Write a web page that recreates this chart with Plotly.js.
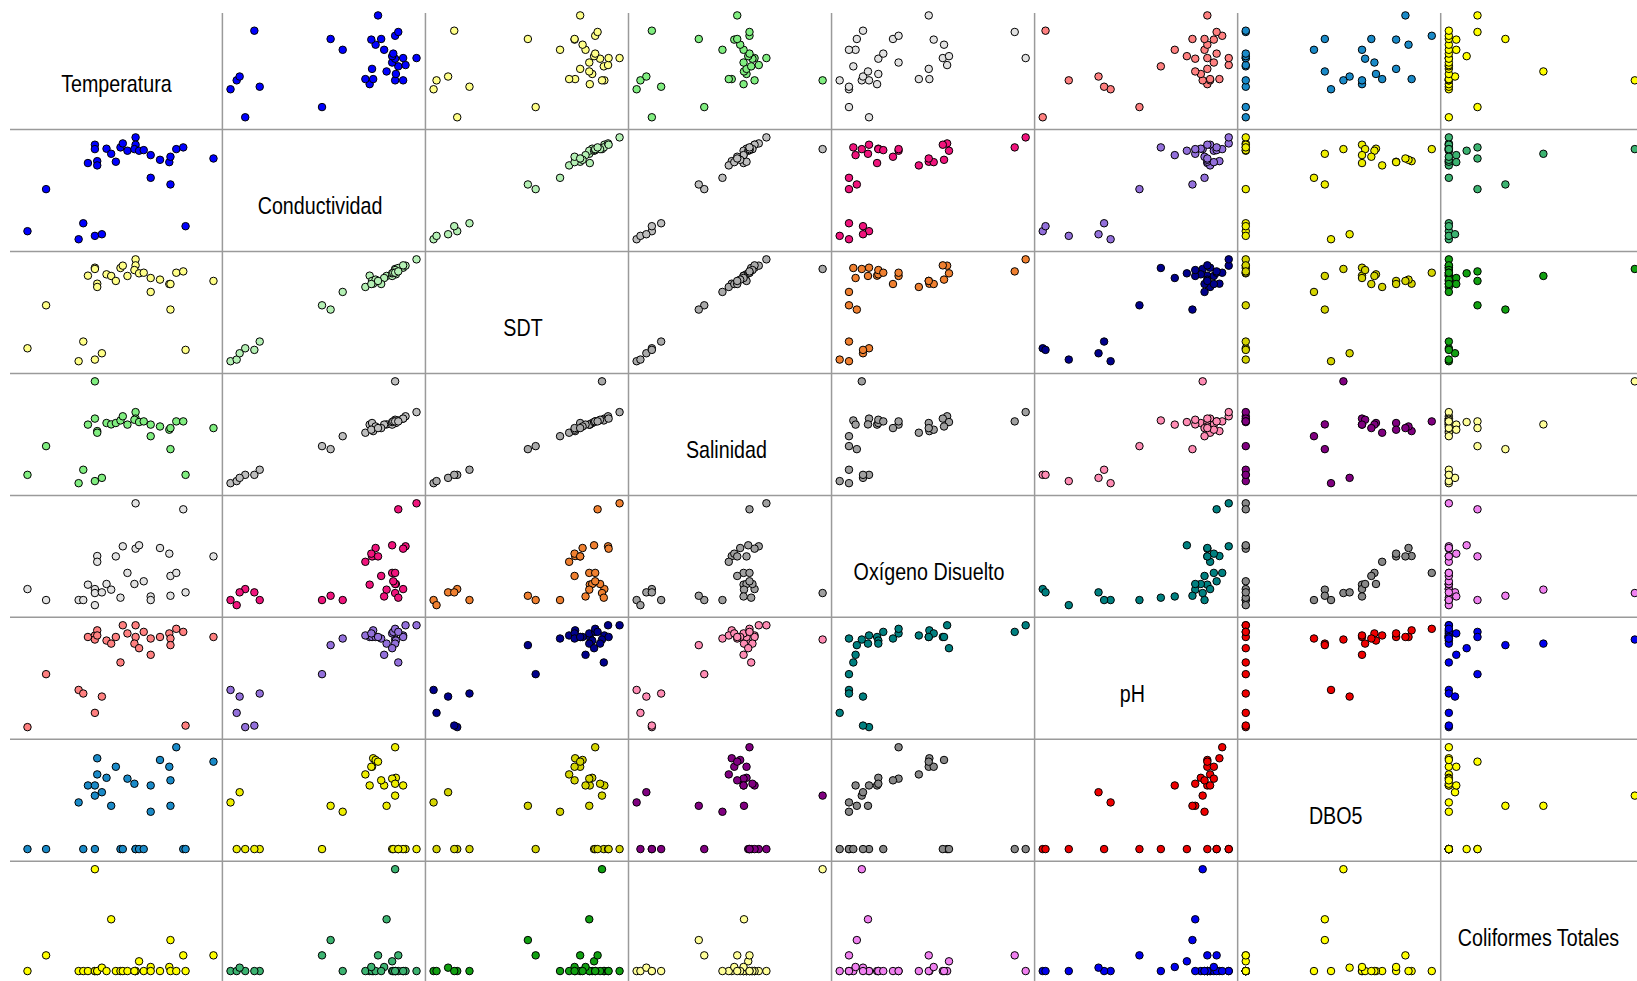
<!DOCTYPE html>
<html><head><meta charset="utf-8">
<script src="https://cdn.plot.ly/plotly-3.0.1.min.js"></script>
<style>html,body{margin:0;padding:0;background:#fff;overflow:hidden;} #chart{width:1637px;height:981px;}</style>
</head><body><div id="chart"></div>
<script>
const categories = ['Temperatura','Conductividad','SDT','Salinidad','Oxígeno Disuelto','pH','DBO5','Coliformes Totales'];

const temperatura = [24.0, 24.8, 26.2, 26.4, 26.6, 26.9, 26.9, 26.9, 27.0, 27.0, 27.2, 27.4, 27.6, 27.8, 28.0, 28.1, 28.3, 28.65, 28.65, 28.6, 28.8, 29.0, 29.3, 29.3, 29.7, 30.1, 30.15, 30.15, 30.4, 30.7, 30.8, 32.0];
const conductividad = [6110, 27580, 2000, 10160, 40900, 50260, 48020, 3720, 41880, 39700, 4550, 48230, 45630, 41570, 48900, 50930, 47190, 54000, 50260, 48020, 47190, 47500, 44950, 33360, 42560, 41360, 44120, 29980, 48020, 48900, 8660, 43240];
const sdt = [4430, 15820, 1000, 6210, 23680, 25790, 25450, 1430, 21550, 20680, 3110, 24030, 23600, 22280, 25710, 26330, 23600, 28000, 26410, 25170, 24300, 24460, 23060, 19360, 22630, 21470, 21470, 14690, 24460, 24810, 4000, 22280];
const salinidad = [4.6, 17.0, 1.0, 6.8, 26.3, 28.9, 45.0, 1.9, 23.5, 22.8, 3.3, 27.0, 26.4, 27.0, 28.1, 29.9, 26.3, 31.7, 28.9, 28.4, 27.4, 27.7, 26.3, 21.3, 25.5, 24.1, 24.8, 15.7, 27.7, 27.7, 4.6, 24.8];
const oxigeno = [1.92, 0.95, 0.95, 0.95, 2.31, 1.92, 1.57, 0.50, 4.84, 4.33, 1.63, 2.37, 1.87, 4.81, 1.16, 5.70, 3.35, 9.50, 5.49, 2.37, 5.79, 2.61, 1.27, 0.95, 5.55, 5.05, 3.08, 1.33, 3.35, 8.97, 1.63, 4.81];
const ph = [6.20, 7.24, 6.93, 6.86, 7.97, 8.00, 7.92, 6.48, 8.10, 8.00, 6.80, 7.90, 7.84, 7.97, 7.47, 8.20, 8.04, 8.20, 7.97, 7.84, 7.75, 8.07, 7.62, 7.94, 7.97, 8.04, 7.94, 7.81, 8.13, 8.07, 6.23, 7.97];
const dbo5 = [0, 0, 5.5, 0, 7.5, 7.5, 6.3, 0, 10.7, 8.8, 6.7, 8.4, 5.1, 9.7, 0, 0, 8.3, 0, 0, 7.7, 0, 0, 7.5, 4.4, 10.5, 9.7, 8.1, 5.1, 12.0, 0, 0, 10.3];
const coliformes = [0, 370, 0, 0, 0, 0, 2400, 0, 0, 0, 80, 0, 1220, 0, 0, 0, 0, 0, 0, 0, 230, 0, 96, 0, 0, 96, 0, 730, 0, 370, 0, 370];

// colour of each pair of variables (same above and below the diagonal)
const pairColors = {
  '0-1':'#0000FF','0-2':'#FFFF88','0-3':'#80EE80','0-4':'#E2E2E2','0-5':'#FF8080','0-6':'#1A8AC8','0-7':'#FFFF00',
  '1-2':'#B4F0B4','1-3':'#BEBEBE','1-4':'#F0147C','1-5':'#9370DB','1-6':'#EEEE00','1-7':'#3CB371',
  '2-3':'#AAAAAA','2-4':'#F08030','2-5':'#00008B','2-6':'#D4D400','2-7':'#11A011',
  '3-4':'#A0A0A0','3-5':'#FF8CB4','3-6':'#800080','3-7':'#FFFF99',
  '4-5':'#008080','4-6':'#888888','4-7':'#F080F0',
  '5-6':'#EE0000','5-7':'#0000EE',
  '6-7':'#FFFF00'
};

const series = [temperatura, conductividad, sdt, salinidad, oxigeno, ph, dbo5, coliformes];
const N = categories.length;
const W = 1637, H = 981;
const colX0 = 19.35, colW = 203.05, rowY0 = 7.5, rowH = 121.97;
const padL = 0.0437, padR = 0.048, padB = 0.1198, padT = 0.0778;

const traces = [];
const layout = {
  width: W, height: H, margin: {l:0, r:0, t:0, b:0},
  paper_bgcolor: '#ffffff', plot_bgcolor: 'rgba(0,0,0,0)',
  showlegend: false, shapes: [], annotations: []
};

function xRange(k, c) {
  const v = series[k]; const mn = Math.min(...v), mx = Math.max(...v), s = mx - mn;
  let lo = mn - padL * s, hi = mx + padR * s;
  const x0 = colX0 + c * colW, x1 = x0 + colW;
  if (x1 > W) hi = lo + (hi - lo) * (W - x0) / colW;
  return [lo, hi];
}
function yRange(k, r) {
  const v = series[k]; const mn = Math.min(...v), mx = Math.max(...v), s = mx - mn;
  let lo = mn - padB * s, hi = mx + padT * s;
  const y0 = rowY0 + r * rowH, y1 = y0 + rowH;
  if (y1 > H) lo = hi - (hi - lo) * (H - y0) / rowH;
  return [lo, hi];
}

for (let i = 0; i < N; i++) {
  for (let j = 0; j < N; j++) {
    if (i === j) continue;
    const p = i * N + j + 1;
    const x0 = colX0 + j * colW, x1 = Math.min(x0 + colW, W);
    const y0 = rowY0 + i * rowH, y1 = Math.min(y0 + rowH, H);
    layout['xaxis' + p] = {domain: [x0 / W, x1 / W], range: xRange(j, j), visible: false, anchor: 'y' + p, fixedrange: true};
    layout['yaxis' + p] = {domain: [1 - y1 / H, 1 - y0 / H], range: yRange(i, i), visible: false, anchor: 'x' + p, fixedrange: true};
    const key = Math.min(i, j) + '-' + Math.max(i, j);
    traces.push({
      type: 'scatter', mode: 'markers',
      x: series[j], y: series[i],
      xaxis: 'x' + p, yaxis: 'y' + p,
      marker: {size: 7.5, color: pairColors[key], line: {color: '#000000', width: 1}},
      hoverinfo: 'skip'
    });
  }
}

// grid lines between panels
for (let c = 1; c < N; c++) {
  const x = (colX0 + c * colW) / W;
  layout.shapes.push({type: 'line', xref: 'paper', yref: 'paper', x0: x, x1: x, y0: 0, y1: 1 - 13 / H, line: {color: '#9a9a9a', width: 1.5}});
}
for (let r = 1; r < N; r++) {
  const y = 1 - (rowY0 + r * rowH) / H;
  layout.shapes.push({type: 'line', xref: 'paper', yref: 'paper', x0: 10 / W, x1: 1, y0: y, y1: y, line: {color: '#9a9a9a', width: 1.5}});
}
// diagonal labels
for (let k = 0; k < N; k++) {
  layout.annotations.push({
    xref: 'paper', yref: 'paper',
    x: (colX0 + (k + 0.5) * colW - 4) / W,
    y: 1 - (rowY0 + (k + 0.5) * rowH + 15) / H,
    text: categories[k], showarrow: false, xanchor: 'center', yanchor: 'middle',
    font: {family: '"Liberation Sans", Arial, sans-serif', size: 24, color: '#000000'}
  });
}

Plotly.newPlot('chart', traces, layout, {staticPlot: true, displayModeBar: false}).then(function () {
  // narrow the label glyphs horizontally (Arial Narrow look), keeping each label centred
  document.querySelectorAll('#chart .annotation-text').forEach(function (el) {
    const bb = el.getBBox();
    const cx = bb.x + bb.width / 2;
    const prev = el.getAttribute('transform') || '';
    el.setAttribute('transform', prev + ' translate(' + cx + ',0) scale(0.82,1) translate(' + (-cx) + ',0)');
  });
});
</script>
</body></html>
